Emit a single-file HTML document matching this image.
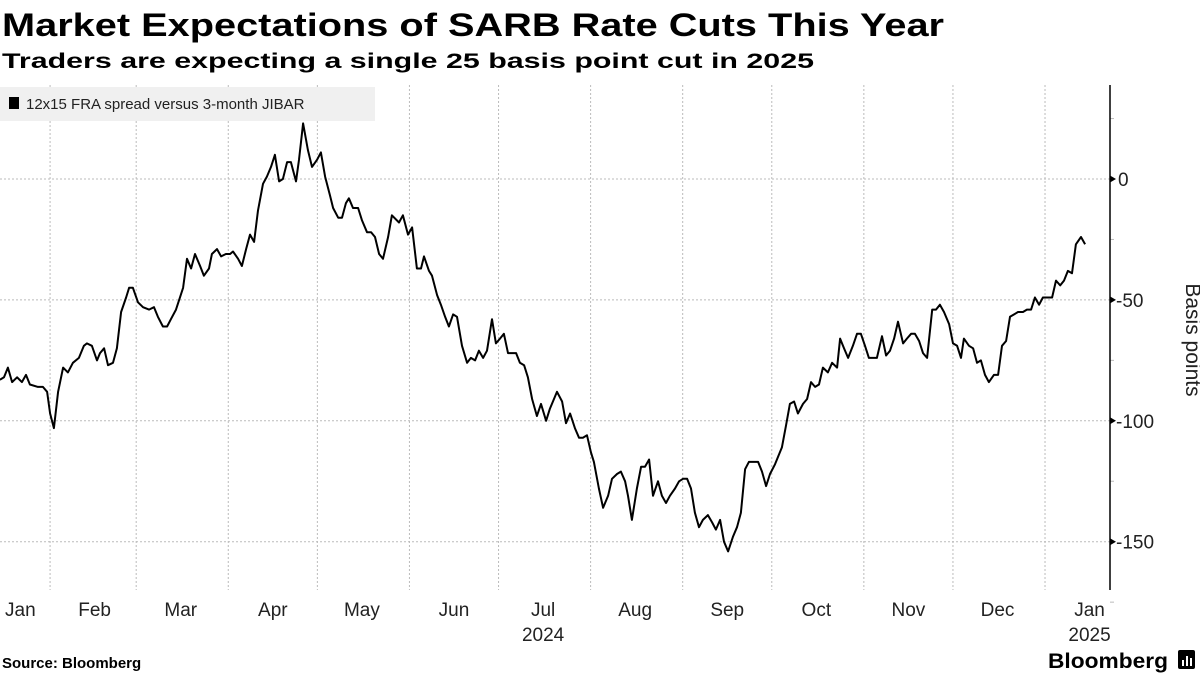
<!DOCTYPE html>
<html><head><meta charset="utf-8"><style>
html,body{margin:0;padding:0;background:#fff;}
svg{display:block;font-family:"Liberation Sans",sans-serif;}
</style></head><body>
<svg id="chart" width="1200" height="675" viewBox="0 0 1200 675">
<text x="2" y="36" font-size="32" font-weight="bold" textLength="942" lengthAdjust="spacingAndGlyphs">Market Expectations of SARB Rate Cuts This Year</text>
<text x="2" y="68" font-size="21" font-weight="bold" textLength="812" lengthAdjust="spacingAndGlyphs">Traders are expecting a single 25 basis point cut in 2025</text>
<g id="grid"></g>
<g>
<rect x="0" y="87" width="375" height="34" fill="#f0f0f0"/>
<rect x="9" y="97" width="10" height="12" fill="#000"/>
<text x="26" y="109" font-size="15" fill="#222">12x15 FRA spread versus 3-month JIBAR</text>
</g>
<g id="axes"></g>
<path id="line" fill="none" stroke="#000" stroke-width="2" stroke-linejoin="round"/>
<text x="1186" y="340" font-size="21" transform="rotate(90 1186 340)" text-anchor="middle" fill="#222">Basis points</text>
<text x="2" y="668" font-size="15" font-weight="bold">Source: Bloomberg</text>
<text x="1048" y="668" font-size="21" font-weight="bold" textLength="120" lengthAdjust="spacingAndGlyphs">Bloomberg</text>
<g><rect x="1178" y="650" width="17" height="19" rx="2" fill="#000"/><rect x="1182" y="660" width="2" height="6" fill="#fff"/><rect x="1186" y="656" width="2" height="10" fill="#fff"/><rect x="1190" y="658" width="2" height="8" fill="#fff"/></g>
</svg>
<script>
const days=[14.1,15.5,16.8,18.2,19.9,21.5,22.9,24.2,26.9,28.6,30.0,31.0,32.3,33.7,35.4,37.0,38.7,40.7,42.4,43.4,45.1,46.8,47.8,49.2,50.5,52.2,53.5,54.9,56.6,57.6,58.9,60.6,62.3,64.3,66.0,67.3,69.0,70.4,71.7,73.4,75.8,77.1,78.5,79.8,81.5,82.8,84.5,85.5,87.2,88.6,90.2,91.6,92.6,94.3,95.6,97.0,98.3,99.7,101.0,102.7,104.0,105.4,106.7,108.1,109.4,110.8,112.1,113.8,114.8,116.2,117.8,119.2,120.9,122.2,123.6,125.3,126.3,128.0,129.3,130.6,131.6,133.0,134.7,136.0,137.7,139.1,140.4,141.8,143.1,144.8,146.1,148.5,149.8,151.5,152.9,154.5,155.9,156.9,158.6,159.6,161.3,162.6,164.0,165.3,166.7,168.0,169.7,171.4,172.7,174.1,175.4,176.8,178.1,179.8,181.1,182.5,183.8,185.2,187.9,189.2,190.6,191.9,193.3,194.9,196.3,198.0,199.3,201.7,203.4,204.7,206.1,207.7,209.1,210.4,211.8,213.1,214.1,215.8,217.2,218.9,220.2,221.9,223.2,224.6,225.6,226.9,228.6,230.0,231.3,232.7,234.0,235.7,237.0,238.4,239.7,241.4,242.8,244.1,245.5,246.8,248.1,249.5,250.8,252.5,253.9,255.2,256.6,257.9,259.3,260.9,262.3,263.6,265.0,266.3,267.7,269.4,270.7,272.1,273.4,275.1,277.4,278.8,280.1,281.5,282.8,284.5,285.9,287.2,288.6,289.9,291.2,292.9,294.3,296.0,297.0,298.3,299.7,301.3,302.7,304.0,305.4,306.7,308.1,309.4,311.1,312.5,313.8,315.2,316.5,318.2,319.5,320.9,322.2,323.6,324.9,326.3,328.0,329.3,330.6,332.0,333.7,335.0,336.4,337.7,338.7,340.4,341.8,343.1,344.4,345.8,347.1,348.8,350.2,351.5,352.9,354.2,355.6,356.9,358.6,359.9,361.3,362.6,364.0,365.3,368.4,369.7,371.1,372.4,373.7,375.1,376.4,378.1,379.5];
const spread=[-83,-82,-78,-84,-82,-84,-81,-85,-86,-86,-88,-97,-103,-88,-78,-80,-76,-74,-69,-68,-69,-75,-72,-70,-77,-76,-70,-55,-49,-45,-45,-51,-53,-54,-53,-57,-61,-61,-58,-54,-45,-33,-37,-31,-36,-40,-37,-31,-29,-32,-31,-31,-30,-33,-36,-29,-23,-26,-13,-2,1,5,10,-1,0,7,7,-1,8,23,12,5,8,11,1,-7,-12,-16,-16,-10,-8,-12,-12,-17,-22,-22,-24,-31,-33,-24,-15,-18,-15,-23,-20,-37,-37,-32,-38,-40,-48,-52,-57,-61,-56,-57,-69,-76,-74,-75,-71,-74,-71,-58,-68,-66,-64,-72,-72,-76,-77,-82,-91,-98,-93,-100,-95,-88,-92,-101,-97,-103,-107,-107,-106,-113,-117,-128,-136,-131,-124,-122,-121,-125,-131,-141,-128,-119,-119,-116,-131,-125,-131,-134,-131,-128,-125,-124,-124,-128,-138,-144,-141,-139,-142,-145,-141,-150,-154,-148,-144,-138,-120,-117,-117,-117,-121,-127,-122,-118,-111,-102,-93,-92,-97,-93,-91,-84,-86,-85,-78,-80,-76,-78,-66,-70,-74,-69,-64,-64,-69,-74,-74,-74,-65,-73,-71,-66,-59,-68,-66,-64,-64,-67,-72,-74,-54,-54,-52,-55,-60,-68,-69,-74,-66,-69,-70,-76,-75,-81,-84,-81,-81,-69,-67,-57,-56,-55,-55,-54,-54,-49,-52,-49,-49,-42,-44,-42,-38,-39,-27,-24,-27];
const yTicks=[0,-50,-100,-150];
const yMinor=[25,-25,-75,-125,-175];
const monthStarts=[31,60,91,121,152,182,213,244,274,305,335,366];
const monthLabels=["Jan","Feb","Mar","Apr","May","Jun","Jul","Aug","Sep","Oct","Nov","Dec","Jan"];
const monthLabelDays=[21,46,75,106,136,167,197,228,259,289,320,350,381];
const yearLabels=["2024","2025"];
const yearLabelDays=[197,381];

const NS="http://www.w3.org/2000/svg";
const X=d=>-42+d*2.97;
const Y=v=>179-v*2.418;
const PL=0,PR=1110,PT=85,PB=590;
function mk(tag,attrs,parent){const e=document.createElementNS(NS,tag);for(const k in attrs)e.setAttribute(k,attrs[k]);parent.appendChild(e);return e;}
const grid=document.getElementById('grid'),axes=document.getElementById('axes');
yTicks.forEach(v=>{
  const l=mk('line',{x1:PL,x2:PR,y1:Y(v),y2:Y(v),stroke:'#bbb','stroke-dasharray':'2,2'},grid);
  
  
  const t=mk('path',{d:`M${PR} ${Y(v)-3.5}L${PR+6} ${Y(v)}L${PR} ${Y(v)+3.5}Z`,fill:'#000'},axes);
  
  
  const tx=mk('text',{x:v===0?PR+8:PR+6,y:Y(v)+7,'font-size':19,fill:'#222'},axes);
  tx.textContent=(v<0?'-':'')+Math.abs(v);
  
  
});
yMinor.forEach(v=>{
  const t=mk('line',{x1:PR,x2:PR+4,y1:Y(v),y2:Y(v),stroke:'#bbb'},axes);
  
  
});
monthStarts.forEach(d=>{
  const l=mk('line',{x1:X(d),x2:X(d),y1:PT,y2:PB,stroke:'#bbb','stroke-dasharray':'2,2'},grid);
  
  
});
const ax=mk('line',{x1:PR,x2:PR,y1:PT,y2:PB,stroke:'#000','stroke-width':1.5},axes);


monthLabels.forEach((m,i)=>{
  const t=mk('text',{x:X(monthLabelDays[i]),y:616,'font-size':19,'text-anchor':'middle',fill:'#222'},axes);
  t.textContent=m;
  
  
});
yearLabels.forEach((yv,i)=>{
  const t=mk('text',{x:X(yearLabelDays[i]),y:641,'font-size':19,'text-anchor':'middle',fill:'#222'},axes);
  t.textContent=yv;
  
  
});
document.getElementById('line').setAttribute('d',days.map((d,i)=>(i?'L':'M')+X(d).toFixed(1)+' '+Y(spread[i]).toFixed(1)).join(''));
</script>
</body></html>
